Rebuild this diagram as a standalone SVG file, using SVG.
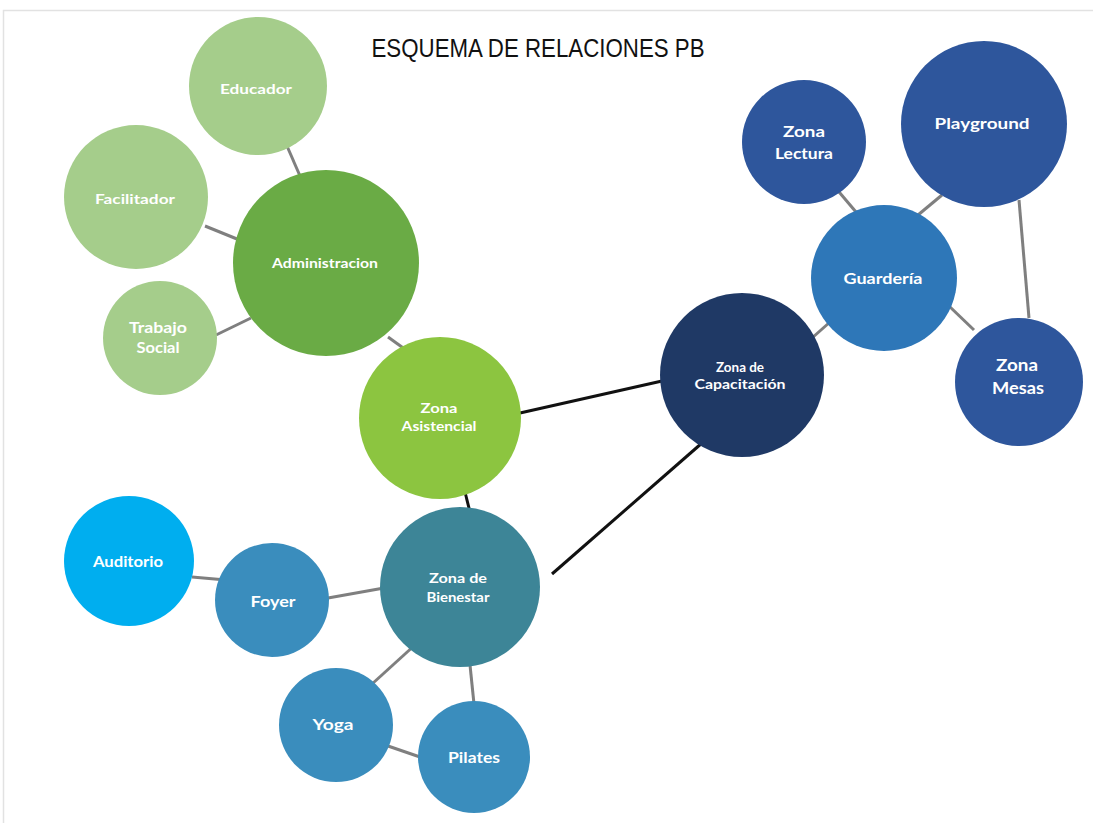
<svg xmlns="http://www.w3.org/2000/svg" width="1093" height="823" viewBox="0 0 1093 823">
<style>
.lbl{font-family:"Lato","Liberation Sans",sans-serif;font-weight:bold;fill:#ffffff;text-anchor:middle;dominant-baseline:central}
.g{stroke:#7f7f7f;stroke-width:3;fill:none}
.k{stroke:#111111;stroke-width:3;fill:none}
.lg{fill:#a5cd8b}
.bl{fill:#2e569c}
.tb{fill:#3a8dbd}
</style>
<rect x="0" y="0" width="1093" height="823" fill="#ffffff"/>
<path d="M3.5 823 V10.5 H1093" fill="none" stroke="#e2e2e2" stroke-width="1.5"/>
<text x="538" y="48" font-family="'Liberation Sans Narrow','Liberation Sans',sans-serif" font-size="25" fill="#111" text-anchor="middle" dominant-baseline="central" textLength="333" lengthAdjust="spacingAndGlyphs">ESQUEMA DE RELACIONES PB</text>
<g id="connectors">
<line class="g" x1="287" y1="146" x2="300" y2="176"/>
<line class="g" x1="205" y1="226" x2="237" y2="239"/>
<line class="g" x1="216" y1="335" x2="251" y2="318"/>
<line class="g" x1="388" y1="337" x2="406" y2="350"/>
<line class="k" x1="520" y1="413" x2="662" y2="381"/>
<line class="k" x1="465" y1="492" x2="470" y2="512"/>
<line class="k" x1="552" y1="574" x2="702" y2="443"/>
<line class="g" x1="812" y1="338" x2="830" y2="322"/>
<line class="g" x1="834" y1="186" x2="856" y2="212"/>
<line class="g" x1="918" y1="215" x2="942" y2="195"/>
<line class="g" x1="1019" y1="200" x2="1029" y2="318"/>
<line class="g" x1="949" y1="306" x2="974" y2="330"/>
<line class="g" x1="192" y1="577" x2="226" y2="580"/>
<line class="g" x1="328" y1="598" x2="384" y2="588"/>
<line class="g" x1="416" y1="644" x2="372" y2="684"/>
<line class="g" x1="470" y1="665" x2="474" y2="704"/>
<line class="g" x1="388" y1="746" x2="420" y2="757"/>
</g>
<g id="educador"><circle class="lg" cx="258" cy="86" r="69"/><text class="lbl" x="256" y="88" font-size="14" textLength="72" lengthAdjust="spacingAndGlyphs">Educador</text></g>
<g id="facilitador"><circle class="lg" cx="136" cy="197" r="72"/><text class="lbl" x="135" y="198" font-size="14" textLength="80" lengthAdjust="spacingAndGlyphs">Facilitador</text></g>
<g id="trabajo-social"><circle class="lg" cx="160" cy="338" r="57"/><text class="lbl" x="158" y="327" font-size="15" textLength="58" lengthAdjust="spacingAndGlyphs">Trabajo</text><text class="lbl" x="158" y="347" font-size="15" textLength="43" lengthAdjust="spacingAndGlyphs">Social</text></g>
<g id="administracion"><circle cx="326" cy="263" r="93" fill="#6aab45"/><text class="lbl" x="325" y="263" font-size="13" textLength="106" lengthAdjust="spacingAndGlyphs">Administracion</text></g>
<g id="zona-asistencial"><circle cx="440" cy="418" r="81" fill="#8cc540"/><text class="lbl" x="439" y="408" font-size="13" textLength="37" lengthAdjust="spacingAndGlyphs">Zona</text><text class="lbl" x="439" y="426" font-size="13" textLength="75" lengthAdjust="spacingAndGlyphs">Asistencial</text></g>
<g id="zona-capacitacion"><circle cx="742" cy="375" r="82" fill="#1f3965"/><text class="lbl" x="740" y="367" font-size="13" textLength="48" lengthAdjust="spacingAndGlyphs">Zona de</text><text class="lbl" x="740" y="384" font-size="13" textLength="91" lengthAdjust="spacingAndGlyphs">Capacitación</text></g>
<g id="guarderia"><circle cx="884" cy="278" r="73" fill="#2e77b8"/><text class="lbl" x="883" y="278" font-size="15" textLength="79" lengthAdjust="spacingAndGlyphs">Guardería</text></g>
<g id="zona-lectura"><circle class="bl" cx="804" cy="142" r="62"/><text class="lbl" x="804" y="130" font-size="16" textLength="42" lengthAdjust="spacingAndGlyphs">Zona</text><text class="lbl" x="804" y="152" font-size="16" textLength="58" lengthAdjust="spacingAndGlyphs">Lectura</text></g>
<g id="playground"><circle class="bl" cx="984" cy="124" r="83"/><text class="lbl" x="982" y="122" font-size="16" textLength="95" lengthAdjust="spacingAndGlyphs">Playground</text></g>
<g id="zona-mesas"><circle class="bl" cx="1019" cy="382" r="64"/><text class="lbl" x="1017" y="364" font-size="17" textLength="42" lengthAdjust="spacingAndGlyphs">Zona</text><text class="lbl" x="1018" y="387" font-size="17" textLength="52" lengthAdjust="spacingAndGlyphs">Mesas</text></g>
<g id="auditorio"><circle cx="129" cy="561" r="65" fill="#00aeef"/><text class="lbl" x="128" y="561" font-size="15" textLength="70" lengthAdjust="spacingAndGlyphs">Auditorio</text></g>
<g id="foyer"><circle class="tb" cx="272" cy="600" r="57"/><text class="lbl" x="273" y="600" font-size="16" textLength="45" lengthAdjust="spacingAndGlyphs">Foyer</text></g>
<g id="zona-bienestar"><circle cx="460" cy="587" r="80" fill="#3d8597"/><text class="lbl" x="458" y="578" font-size="13" textLength="58" lengthAdjust="spacingAndGlyphs">Zona de</text><text class="lbl" x="458" y="597" font-size="13" textLength="63" lengthAdjust="spacingAndGlyphs">Bienestar</text></g>
<g id="yoga"><circle class="tb" cx="336" cy="725" r="57"/><text class="lbl" x="333" y="723" font-size="16" textLength="41" lengthAdjust="spacingAndGlyphs">Yoga</text></g>
<g id="pilates"><circle class="tb" cx="474" cy="757" r="56"/><text class="lbl" x="474" y="756" font-size="16" textLength="52" lengthAdjust="spacingAndGlyphs">Pilates</text></g>
</svg>
